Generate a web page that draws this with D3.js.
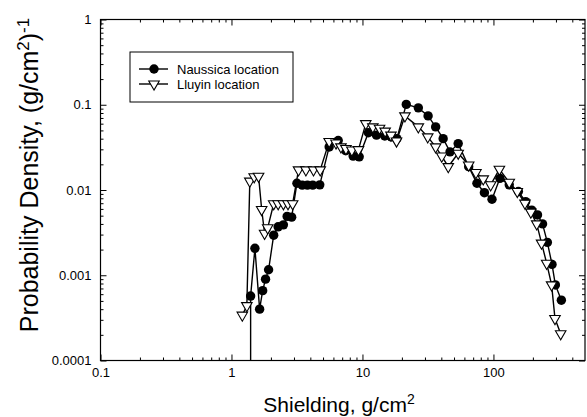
<!DOCTYPE html>
<html>
<head>
<meta charset="utf-8">
<script src="https://cdn.jsdelivr.net/npm/d3@7"></script>
<style>
  body { margin: 0; background: #fff; }
  svg { display: block; font-family: Arial, "Liberation Sans", sans-serif; }
</style>
</head>
<body>
<div id="chart"></div>
<script>
// DATA
const xTickValues = [0.1, 1, 10, 100];
const xTickLabels = ["0.1", "1", "10", "100"];
const yTickValues = [0.0001, 0.001, 0.01, 0.1, 1];
const yTickLabels = ["0.0001", "0.001", "0.01", "0.1", "1"];

const seriesNames = ["Naussica location", "Lluyin location"];

// first Naussica value is zero (runs off the bottom of the log axis)
const naussicaX = [1.40, 1.40, 1.51, 1.64, 1.73, 1.82, 1.92, 2.10, 2.27, 2.49, 2.66, 2.88,
  3.16, 3.47, 3.80, 4.17, 4.72, 5.57, 6.53, 7.45, 8.49, 9.44, 11.1, 12.8, 14.8, 16.6, 18.3,
  21.6, 26.7, 31.7, 36.2, 41.3, 46.6, 53.8, 64.7, 74.8, 85.3, 97.5, 112, 132, 155, 176,
  196, 217, 237, 258, 280, 297, 330];
const naussicaY = [0, 0.00057, 0.00207, 0.0004, 0.00066, 0.0009, 0.00116, 0.00295, 0.0037,
  0.0039, 0.0049, 0.0048, 0.012, 0.0114, 0.0114, 0.0114, 0.0115, 0.032, 0.038, 0.029,
  0.025, 0.0245, 0.047, 0.044, 0.043, 0.042, 0.040, 0.101, 0.092, 0.074, 0.055, 0.040,
  0.028, 0.035, 0.0188, 0.012, 0.0093, 0.0078, 0.0137, 0.0115, 0.0096, 0.0073, 0.0058,
  0.0051, 0.0040, 0.00243, 0.00134, 0.00077, 0.00051];

const lluyinX = [1.21, 1.31, 1.38, 1.49, 1.61, 1.70, 1.79, 1.89, 2.10, 2.27, 2.49, 2.70,
  2.93, 3.25, 3.70, 4.23, 4.76, 5.57, 6.28, 6.85, 7.48, 8.3, 9.32, 10.6, 12.0, 13.5, 14.9,
  16.5, 18.2, 21.1, 26.7, 31.5, 36.2, 40.3, 45.2, 53.8, 64.7, 73.5, 83.6, 95.2, 111, 132,
  152, 174, 193, 214, 233, 255, 278, 295, 326];
const lluyinY = [0.00034, 0.00044, 0.0127, 0.0143, 0.0145, 0.0059, 0.0031, 0.0036, 0.0069,
  0.0069, 0.0069, 0.0069, 0.0069, 0.0172, 0.0172, 0.0172, 0.0172, 0.037, 0.0356, 0.032,
  0.0306, 0.0294, 0.0297, 0.060, 0.055, 0.053, 0.049, 0.044, 0.0375, 0.074, 0.055, 0.042,
  0.032, 0.025, 0.0188, 0.027, 0.0196, 0.016, 0.0135, 0.0115, 0.0175, 0.0123, 0.0096,
  0.0070, 0.0055, 0.0040, 0.00238, 0.00138, 0.00077, 0.00031, 0.000206];

// CANVAS
const W = 587, H = 417;
const PLOT = { LEFT: 100.5, RIGHT: 585, TOP: 19.5, BOTTOM: 360.5 };

const svg = d3.select("#chart")
  .append("svg")
  .attr("width", W)
  .attr("height", H);

// SCALE
const x = d3.scaleLog().domain([0.1, 500]).range([PLOT.LEFT, PLOT.RIGHT]);
const y = d3.scaleLog().domain([0.0001, 1]).range([PLOT.BOTTOM, PLOT.TOP]).clamp(true);

function minorTicks(lo, hi) {
  const out = [];
  for (let e = Math.floor(Math.log10(lo)); e <= Math.ceil(Math.log10(hi)); e++) {
    for (let m = 2; m <= 9; m++) {
      const v = m * Math.pow(10, e);
      if (v > lo && v < hi) out.push(v);
    }
  }
  return out;
}
const xMinor = minorTicks(0.1, 500);
const yMinor = minorTicks(0.0001, 1);

// AXES (ticks pointing inward on all four sides)
const MAJ = 6, MIN = 3;
function plain(g) { g.select(".domain").remove(); g.selectAll("text").remove(); }

svg.append("g").attr("transform", `translate(0,${PLOT.BOTTOM})`)
  .call(d3.axisBottom(x).tickValues(xMinor).tickSize(-MIN)).call(plain);
svg.append("g").attr("transform", `translate(0,${PLOT.TOP})`)
  .call(d3.axisTop(x).tickValues(xMinor).tickSize(-MIN)).call(plain);
svg.append("g").attr("transform", `translate(0,${PLOT.TOP})`)
  .call(d3.axisTop(x).tickValues(xTickValues).tickSize(-MAJ)).call(plain);
svg.append("g").attr("transform", `translate(${PLOT.LEFT},0)`)
  .call(d3.axisLeft(y).tickValues(yMinor).tickSize(-MIN)).call(plain);
svg.append("g").attr("transform", `translate(${PLOT.RIGHT},0)`)
  .call(d3.axisRight(y).tickValues(yMinor).tickSize(-MIN)).call(plain);
svg.append("g").attr("transform", `translate(${PLOT.RIGHT},0)`)
  .call(d3.axisRight(y).tickValues(yTickValues).tickSize(-MAJ)).call(plain);

const xAxis = svg.append("g")
  .attr("transform", `translate(0,${PLOT.BOTTOM})`)
  .call(d3.axisBottom(x).tickValues(xTickValues)
    .tickFormat((d, i) => xTickLabels[i]).tickSize(-MAJ).tickPadding(7))
  .call((g) => g.select(".domain").remove());
xAxis.selectAll("text").attr("font-size", "13px").attr("fill", "#000");

const yAxis = svg.append("g")
  .attr("transform", `translate(${PLOT.LEFT},0)`)
  .call(d3.axisLeft(y).tickValues(yTickValues)
    .tickFormat((d, i) => yTickLabels[i]).tickSize(-MAJ).tickPadding(9))
  .call((g) => g.select(".domain").remove());
yAxis.selectAll("text").attr("font-size", "13px").attr("fill", "#000");

svg.selectAll(".tick line").attr("stroke", "#000").attr("stroke-width", 1);

// frame
svg.append("rect")
  .attr("x", PLOT.LEFT).attr("y", PLOT.TOP)
  .attr("width", PLOT.RIGHT - PLOT.LEFT).attr("height", PLOT.BOTTOM - PLOT.TOP)
  .attr("fill", "none").attr("stroke", "#000").attr("stroke-width", 1.2);

// LABELS
const xLabel = svg.append("text")
  .attr("x", 339).attr("y", 412)
  .attr("text-anchor", "middle")
  .attr("font-size", "21px");
xLabel.append("tspan").text("Shielding, g/cm");
xLabel.append("tspan").attr("dy", -8).attr("font-size", "14px").text("2");

const yLabel = svg.append("text")
  .attr("transform", "translate(38,175) rotate(-90)")
  .attr("text-anchor", "middle")
  .attr("font-size", "25px");
yLabel.append("tspan").text("Probability Density, (g/cm");
yLabel.append("tspan").attr("dy", -9).attr("font-size", "17px").text("2");
yLabel.append("tspan").attr("dy", 9).text(")");
yLabel.append("tspan").attr("dy", -9).attr("font-size", "17px").text("-1");

// ELEMENTS
const naussica = naussicaX.map((v, i) => ({ x: v, y: naussicaY[i] }));
const lluyin = lluyinX.map((v, i) => ({ x: v, y: lluyinY[i] }));

const line = d3.line().x((d) => x(d.x)).y((d) => y(d.y));
const tri = d3.symbol().type(d3.symbolTriangle).size(48);

svg.append("path").datum(naussica)
  .attr("d", line).attr("fill", "none")
  .attr("stroke", "#000").attr("stroke-width", 1.4);
svg.selectAll("circle.naussica")
  .data(naussica.filter((d) => d.y > 0))
  .enter().append("circle")
  .attr("class", "naussica")
  .attr("cx", (d) => x(d.x)).attr("cy", (d) => y(d.y))
  .attr("r", 4.7).attr("fill", "#000");

svg.append("path").datum(lluyin)
  .attr("d", line).attr("fill", "none")
  .attr("stroke", "#000").attr("stroke-width", 1.4);
svg.selectAll("path.lluyin")
  .data(lluyin)
  .enter().append("path")
  .attr("class", "lluyin")
  .attr("d", tri)
  .attr("transform", (d) => `translate(${x(d.x)},${y(d.y)}) rotate(180)`)
  .attr("fill", "#fff").attr("stroke", "#000").attr("stroke-width", 1.1);

// LEGEND
const legend = svg.append("g");
legend.append("rect")
  .attr("x", 130).attr("y", 52).attr("width", 163).attr("height", 50)
  .attr("fill", "#fff").attr("stroke", "#000").attr("stroke-width", 1);
seriesNames.forEach((name, i) => {
  const ly = 69 + i * 15;
  legend.append("line")
    .attr("x1", 139).attr("x2", 168).attr("y1", ly).attr("y2", ly)
    .attr("stroke", "#000").attr("stroke-width", 1.4);
  if (i === 0) {
    legend.append("circle").attr("cx", 154).attr("cy", ly).attr("r", 4.7).attr("fill", "#000");
  } else {
    legend.append("path").attr("d", tri)
      .attr("transform", `translate(154,${ly}) rotate(180)`)
      .attr("fill", "#fff").attr("stroke", "#000").attr("stroke-width", 1.1);
  }
  legend.append("text")
    .attr("x", 177).attr("y", ly + 4.5)
    .attr("font-size", "13px")
    .text(name);
});
</script>
</body>
</html>
